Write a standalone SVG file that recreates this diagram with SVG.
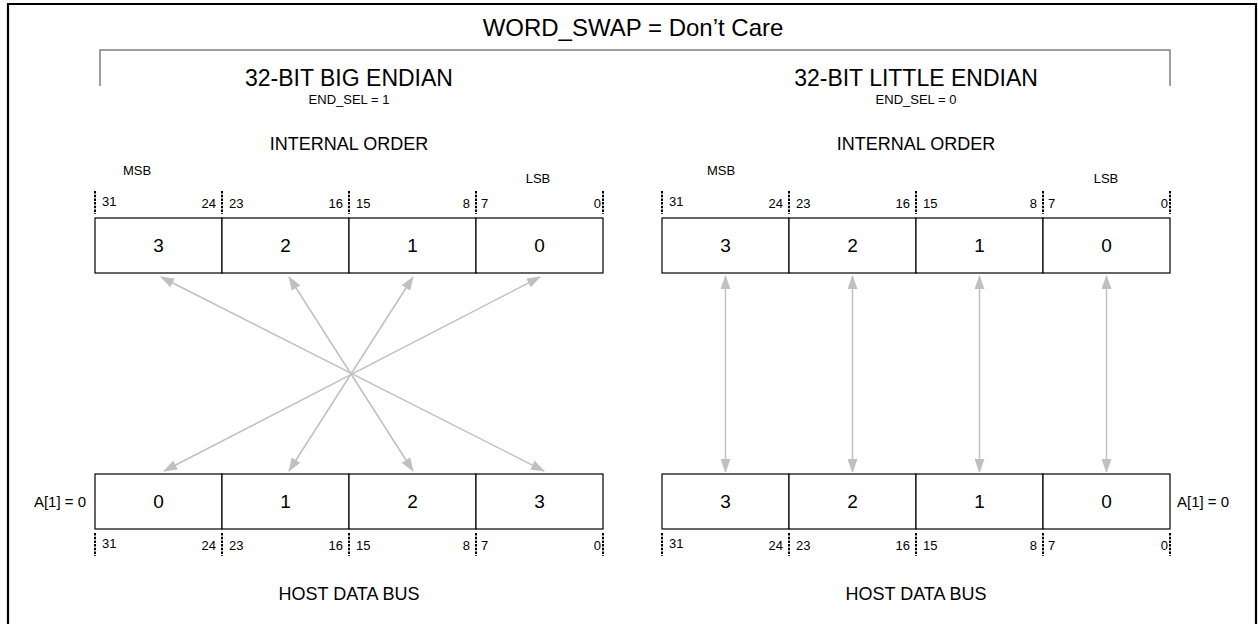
<svg xmlns="http://www.w3.org/2000/svg" width="1258" height="624" viewBox="0 0 1258 624">
<defs>
<style>
text{font-family:"Liberation Sans",Arial,sans-serif;fill:#000}
.h{font-size:24px}
.t{font-size:23px}
.s{font-size:13px}
.a{font-size:15px}
.m{font-size:18px}
.n{font-size:19px}
.b{font-size:13px}
.cell{fill:#fff;stroke:#000;stroke-width:1.2}
.tick{stroke:#000;stroke-width:2;stroke-dasharray:2.5,1.2}
.arr{stroke:#c0c0c0;stroke-width:1.5;fill:none;marker-start:url(#ah);marker-end:url(#ah)}
</style>
<marker id="ah" viewBox="0 0 14 10" refX="13" refY="5" markerWidth="14" markerHeight="10" markerUnits="userSpaceOnUse" orient="auto-start-reverse">
<path d="M0,0 L14,5 L0,10 Z" fill="#c0c0c0"/>
</marker>
</defs>
<rect width="1258" height="624" fill="#fff"/>
<path d="M8,630 V4 H1256 V630" fill="none" stroke="#000" stroke-width="2.2"/>
<path d="M100,86 V50 H1170 V86" fill="none" stroke="#808080" stroke-width="1.5"/>
<text class="h" x="633" y="36" text-anchor="middle">WORD_SWAP = Don’t Care</text>

<g id="left-title">
<text class="t" x="349" y="86" text-anchor="middle">32-BIT BIG ENDIAN</text>
<text class="s" x="349" y="104" text-anchor="middle">END_SEL = 1</text>
<text class="m" x="349" y="150" text-anchor="middle">INTERNAL ORDER</text>
<text class="s" x="137" y="175" text-anchor="middle">MSB</text>
<text class="s" x="538" y="183" text-anchor="middle">LSB</text>
</g>
<g id="right-title">
<text class="t" x="916" y="86" text-anchor="middle">32-BIT LITTLE ENDIAN</text>
<text class="s" x="916" y="104" text-anchor="middle">END_SEL = 0</text>
<text class="m" x="916" y="150" text-anchor="middle">INTERNAL ORDER</text>
<text class="s" x="721" y="175" text-anchor="middle">MSB</text>
<text class="s" x="1106" y="183" text-anchor="middle">LSB</text>
</g>

<g id="left-internal">
<rect class="cell" x="95" y="218" width="127" height="55"/>
<rect class="cell" x="222" y="218" width="127" height="55"/>
<rect class="cell" x="349" y="218" width="127" height="55"/>
<rect class="cell" x="476" y="218" width="127" height="55"/>
<text class="n" x="158.5" y="252" text-anchor="middle">3</text>
<text class="n" x="285.5" y="252" text-anchor="middle">2</text>
<text class="n" x="412.5" y="252" text-anchor="middle">1</text>
<text class="n" x="539.5" y="252" text-anchor="middle">0</text>
<path class="tick" d="M95,191 V214 M222,191 V214 M349,191 V214 M476,191 V214 M603,191 V214"/>
<text class="b" x="102" y="206">31</text>
<text class="b" x="216" y="208" text-anchor="end">24</text>
<text class="b" x="229" y="208">23</text>
<text class="b" x="343" y="208" text-anchor="end">16</text>
<text class="b" x="356" y="208">15</text>
<text class="b" x="470" y="208" text-anchor="end">8</text>
<text class="b" x="481" y="208">7</text>
<text class="b" x="601" y="208" text-anchor="end">0</text>
</g>

<g id="left-host">
<rect class="cell" x="95" y="474" width="127" height="55"/>
<rect class="cell" x="222" y="474" width="127" height="55"/>
<rect class="cell" x="349" y="474" width="127" height="55"/>
<rect class="cell" x="476" y="474" width="127" height="55"/>
<text class="n" x="158.5" y="508" text-anchor="middle">0</text>
<text class="n" x="285.5" y="508" text-anchor="middle">1</text>
<text class="n" x="412.5" y="508" text-anchor="middle">2</text>
<text class="n" x="539.5" y="508" text-anchor="middle">3</text>
<text class="a" x="86" y="507" text-anchor="end">A[1] = 0</text>
<path class="tick" d="M95,533 V556 M222,533 V556 M349,533 V556 M476,533 V556 M603,533 V556"/>
<text class="b" x="102" y="548">31</text>
<text class="b" x="216" y="550" text-anchor="end">24</text>
<text class="b" x="229" y="550">23</text>
<text class="b" x="343" y="550" text-anchor="end">16</text>
<text class="b" x="356" y="550">15</text>
<text class="b" x="470" y="550" text-anchor="end">8</text>
<text class="b" x="481" y="550">7</text>
<text class="b" x="601" y="550" text-anchor="end">0</text>
<text class="m" x="349" y="600" text-anchor="middle">HOST DATA BUS</text>
</g>

<g id="right-internal">
<rect class="cell" x="662" y="218" width="127" height="55"/>
<rect class="cell" x="789" y="218" width="127" height="55"/>
<rect class="cell" x="916" y="218" width="127" height="55"/>
<rect class="cell" x="1043" y="218" width="127" height="55"/>
<text class="n" x="725.5" y="252" text-anchor="middle">3</text>
<text class="n" x="852.5" y="252" text-anchor="middle">2</text>
<text class="n" x="979.5" y="252" text-anchor="middle">1</text>
<text class="n" x="1106.5" y="252" text-anchor="middle">0</text>
<path class="tick" d="M662,191 V214 M789,191 V214 M916,191 V214 M1043,191 V214 M1170,191 V214"/>
<text class="b" x="669" y="206">31</text>
<text class="b" x="783" y="208" text-anchor="end">24</text>
<text class="b" x="796" y="208">23</text>
<text class="b" x="910" y="208" text-anchor="end">16</text>
<text class="b" x="923" y="208">15</text>
<text class="b" x="1037" y="208" text-anchor="end">8</text>
<text class="b" x="1048" y="208">7</text>
<text class="b" x="1168" y="208" text-anchor="end">0</text>
</g>

<g id="right-host">
<rect class="cell" x="662" y="474" width="127" height="55"/>
<rect class="cell" x="789" y="474" width="127" height="55"/>
<rect class="cell" x="916" y="474" width="127" height="55"/>
<rect class="cell" x="1043" y="474" width="127" height="55"/>
<text class="n" x="725.5" y="508" text-anchor="middle">3</text>
<text class="n" x="852.5" y="508" text-anchor="middle">2</text>
<text class="n" x="979.5" y="508" text-anchor="middle">1</text>
<text class="n" x="1106.5" y="508" text-anchor="middle">0</text>
<text class="a" x="1177" y="507">A[1] = 0</text>
<path class="tick" d="M662,533 V556 M789,533 V556 M916,533 V556 M1043,533 V556 M1170,533 V556"/>
<text class="b" x="669" y="548">31</text>
<text class="b" x="783" y="550" text-anchor="end">24</text>
<text class="b" x="796" y="550">23</text>
<text class="b" x="910" y="550" text-anchor="end">16</text>
<text class="b" x="923" y="550">15</text>
<text class="b" x="1037" y="550" text-anchor="end">8</text>
<text class="b" x="1048" y="550">7</text>
<text class="b" x="1168" y="550" text-anchor="end">0</text>
<text class="m" x="916" y="600" text-anchor="middle">HOST DATA BUS</text>
</g>

<g id="connectors">
<line class="arr" x1="161" y1="277" x2="544" y2="471"/>
<line class="arr" x1="289" y1="277" x2="413" y2="471"/>
<line class="arr" x1="413" y1="277" x2="289" y2="471"/>
<line class="arr" x1="540" y1="277" x2="164" y2="471"/>
<line class="arr" x1="725.5" y1="276" x2="725.5" y2="472"/>
<line class="arr" x1="852.5" y1="276" x2="852.5" y2="472"/>
<line class="arr" x1="979.5" y1="276" x2="979.5" y2="472"/>
<line class="arr" x1="1106.5" y1="276" x2="1106.5" y2="472"/>
</g>
</svg>
